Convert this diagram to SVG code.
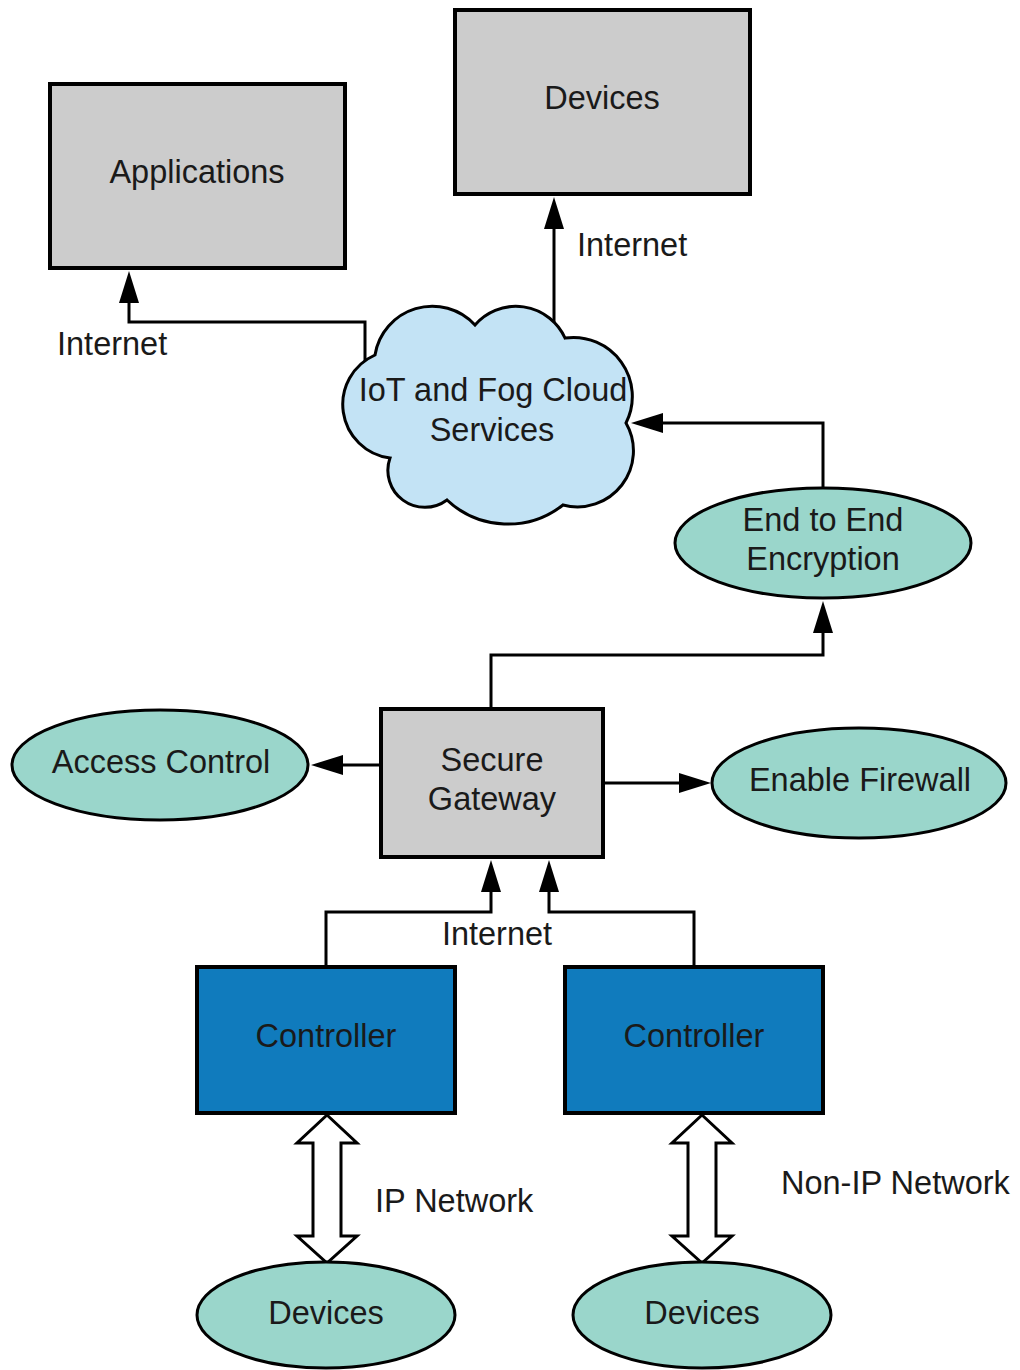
<svg xmlns="http://www.w3.org/2000/svg" width="1020" height="1370" viewBox="0 0 1020 1370">
<style>
.box{fill:#cccccc;stroke:#000;stroke-width:4}
.ctl{fill:#107bbd;stroke:#000;stroke-width:4}
.ell{fill:#9ad6cb;stroke:#000;stroke-width:3}
.cloud{fill:#c3e3f5;stroke:#000;stroke-width:3}
.con{fill:none;stroke:#000;stroke-width:3}
.dbl{fill:#fff;stroke:#000;stroke-width:3;stroke-linejoin:miter}
text{font-family:"Liberation Sans",Arial,sans-serif;font-size:32.5px;fill:#1a1a1a;text-anchor:middle}
.lbl{text-anchor:start}
</style>
<defs>
<marker id="ah" viewBox="0 0 32 20" markerWidth="32" markerHeight="20" refX="1" refY="10" orient="auto" markerUnits="userSpaceOnUse">
<path d="M0,0 L32,10 L0,20 z" fill="#000"/>
</marker>
</defs>
<g id="connectors">
<path class="con" d="M365,378 V322 H129 V302" marker-end="url(#ah)"/>
<path class="con" d="M554,330 V228" marker-end="url(#ah)"/>
<path class="con" d="M823,487 V423 H662" marker-end="url(#ah)"/>
<path class="con" d="M491,709 V655 H823 V632" marker-end="url(#ah)"/>
<path class="con" d="M381,765 H342" marker-end="url(#ah)"/>
<path class="con" d="M603,783 H680" marker-end="url(#ah)"/>
<path class="con" d="M326,967 V912 H491 V891" marker-end="url(#ah)"/>
<path class="con" d="M694,967 V912 H549 V891" marker-end="url(#ah)"/>
<polygon class="dbl" points="327,1115 357,1143 341,1143 341,1236 357,1236 327,1263 297,1236 313,1236 313,1143 297,1143"/>
<polygon class="dbl" points="702,1115 732,1143 716,1143 716,1236 732,1236 702,1263 672,1236 688,1236 688,1143 672,1143"/>
<text class="lbl" x="57" y="355">Internet</text>
<text class="lbl" x="577" y="256">Internet</text>
<text x="497" y="945">Internet</text>
<text class="lbl" x="375" y="1212">IP Network</text>
<text class="lbl" x="781" y="1194">Non-IP Network</text>
</g>
<g id="applications">
<rect class="box" x="50" y="84" width="295" height="184"/>
<text x="197" y="183">Applications</text>
</g>
<g id="devices-top">
<rect class="box" x="455" y="10" width="295" height="184"/>
<text x="602" y="109">Devices</text>
</g>
<g id="cloud">
<path class="cloud" d="M375,355 A58,58 0 0 1 475,325 A54,54 0 0 1 565,338 A59,59 0 0 1 626,423 A56,56 0 0 1 563,505 A89,89 0 0 1 447,500 A37,37 0 0 1 390,458 A54,54 0 0 1 375,355 Z"/>
<text x="493" y="401">IoT and Fog Cloud</text>
<text x="492" y="441">Services</text>
</g>
<g id="encryption">
<ellipse class="ell" cx="823" cy="543" rx="148" ry="55"/>
<text x="823" y="531">End to End</text>
<text x="823" y="570">Encryption</text>
</g>
<g id="gateway">
<rect class="box" x="381" y="709" width="222" height="148"/>
<text x="492" y="771">Secure</text>
<text x="492" y="810">Gateway</text>
</g>
<g id="access-control">
<ellipse class="ell" cx="160" cy="765" rx="148" ry="55"/>
<text x="161" y="773">Access Control</text>
</g>
<g id="firewall">
<ellipse class="ell" cx="859" cy="783" rx="147" ry="55"/>
<text x="860" y="791">Enable Firewall</text>
</g>
<g id="controller-left">
<rect class="ctl" x="197" y="967" width="258" height="146"/>
<text x="326" y="1047">Controller</text>
</g>
<g id="controller-right">
<rect class="ctl" x="565" y="967" width="258" height="146"/>
<text x="694" y="1047">Controller</text>
</g>
<g id="devices-left">
<ellipse class="ell" cx="326" cy="1315" rx="129" ry="53"/>
<text x="326" y="1324">Devices</text>
</g>
<g id="devices-right">
<ellipse class="ell" cx="702" cy="1315" rx="129" ry="53"/>
<text x="702" y="1324">Devices</text>
</g>
</svg>
